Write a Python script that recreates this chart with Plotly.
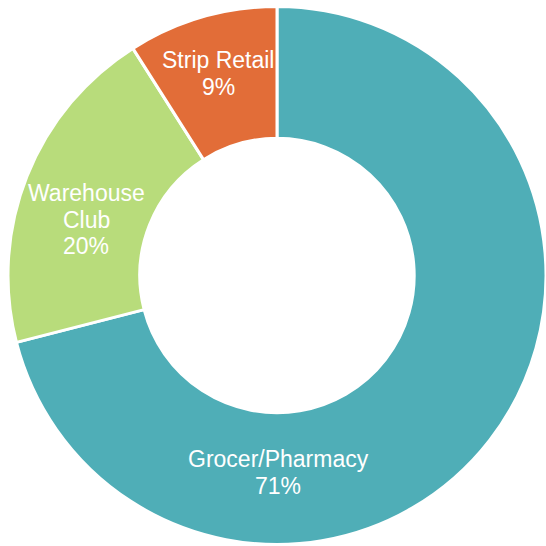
import plotly.graph_objects as go

categories = ["Grocer/Pharmacy", "Warehouse Club", "Strip Retail"]
values = [71, 20, 9]
label_lines = [["Grocer/Pharmacy"], ["Warehouse", "Club"], ["Strip Retail"]]
colors = ["#4FAEB7", "#B8DC7B", "#E26D38"]

W = H = 546
# label anchor (pixel) for the first line of each label, and line step
label_pos = [(278, 459), (86, 193), (218, 60)]
line_step = 26.5

fig = go.Figure(go.Pie(
    labels=categories,
    values=values,
    hole=0.51,
    sort=False,
    direction="clockwise",
    rotation=0,
    marker=dict(colors=colors, line=dict(color="white", width=3)),
    textinfo="none",
    hoverinfo="label+percent",
    showlegend=False,
    domain=dict(x=[8 / W, 1], y=[0, 1 - 5 / H]),
))

total = sum(values)
annotations = []
for lines, v, (px, py) in zip(label_lines, values, label_pos):
    all_lines = lines + [f"{round(100 * v / total)}%"]
    for i, t in enumerate(all_lines):
        annotations.append(dict(
            text=t, x=px / W, y=1 - (py + i * line_step) / H,
            xref="paper", yref="paper", showarrow=False,
            xanchor="center", yanchor="middle",
            font=dict(family="Liberation Sans, Arial, sans-serif", size=23, color="white"),
        ))

fig.update_layout(
    width=W, height=H,
    margin=dict(l=0, r=0, t=0, b=0),
    paper_bgcolor="white",
    plot_bgcolor="white",
    annotations=annotations,
)

fig.write_html("out.html")
